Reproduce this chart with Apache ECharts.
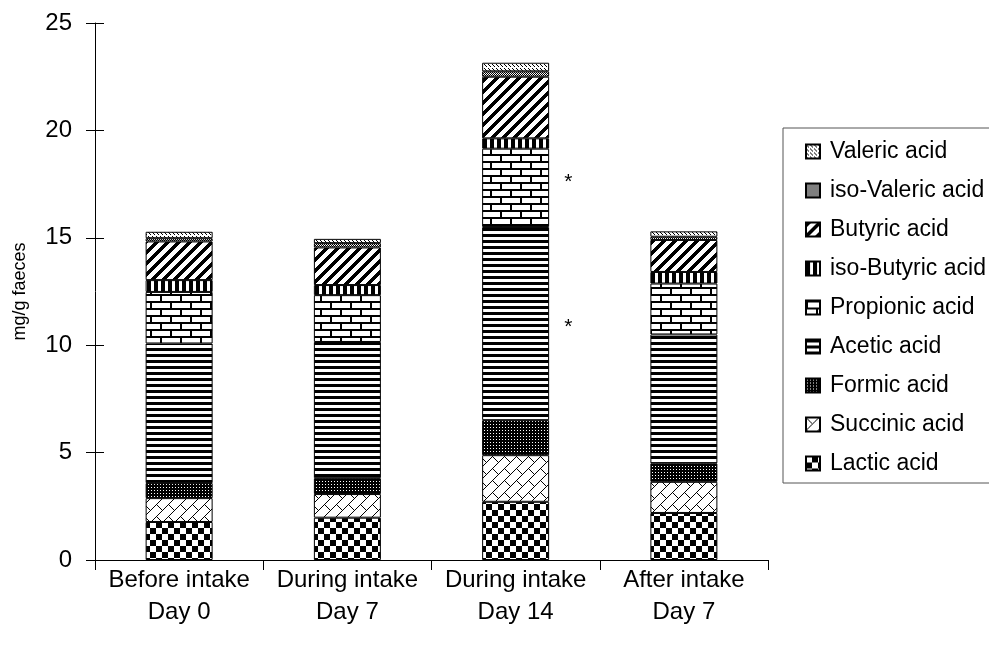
<!DOCTYPE html>
<html>
<head>
<meta charset="utf-8">
<script src="https://cdn.jsdelivr.net/npm/echarts@6/dist/echarts.min.js"></script>
<style>
html,body{margin:0;padding:0;background:#fff;}
#chart{width:989px;height:649px;}
</style>
</head>
<body>
<div id="chart"></div>
<script>
// ---- data ----
const categories = ['Before intake\nDay 0', 'During intake\nDay 7', 'During intake\nDay 14', 'After intake\nDay 7'];
const lactic     = [1.77, 1.97, 2.71, 2.19];
const succinic   = [1.11, 1.10, 2.17, 1.45];
const formic     = [0.70, 0.74, 1.63, 0.86];
const acetic     = [6.50, 6.34, 8.99, 6.00];
const propionic  = [2.40, 2.18, 3.65, 2.37];
const isoButyric = [0.55, 0.47, 0.48, 0.54];
const butyric    = [1.80, 1.75, 2.87, 1.49];
const isoValeric = [0.15, 0.20, 0.25, 0.15];
const valeric    = [0.30, 0.20, 0.40, 0.25];
const yTicks = [0, 5, 10, 15, 20, 25];
// significance marks: series name -> category indices
const significant = { 'Propionic acid': [2], 'Acetic acid': [2] };

// ---- patterns ----
function tile(w, h, fn) {
  const c = document.createElement('canvas');
  c.width = w; c.height = h;
  const ctx = c.getContext('2d');
  const img = ctx.createImageData(w, h);
  for (let y = 0; y < h; y++) for (let x = 0; x < w; x++) {
    const b = fn(x, y);
    const i = (y * w + x) * 4;
    const v = b ? 0 : 255;
    img.data[i] = v; img.data[i + 1] = v; img.data[i + 2] = v; img.data[i + 3] = 255;
  }
  ctx.putImageData(img, 0, 0);
  return { image: c, repeat: 'repeat' };
}
const mod = (a, n) => ((a % n) + n) % n;
const patterns = {
  lactic: tile(12, 12, (x, y) => (x < 6) !== (y < 6)),
  succinic: tile(24, 24, (x, y) => {
    const T = 12, u = x + y, v = x - y;
    if (mod(u, T) === 0) return true;
    const s = Math.floor(u / T);
    return mod(v + s * T, 2 * T) === 0;
  }),
  formic: tile(3, 3, (x, y) => !(x === 1 && y === 1)),
  acetic: tile(4, 6, (x, y) => y < 3),
  propionic: tile(20, 14, (x, y) => {
    if (y < 2 || (y >= 7 && y < 9)) return true;
    if (y < 7) return x < 2;
    return x >= 10 && x < 12;
  }),
  isoButyric: tile(7, 4, (x, y) => x < 4),
  butyric: tile(11, 11, (x, y) => mod(x + y, 11) < 5),
  isoValeric: tile(2, 2, (x, y) => (x + y) % 2 === 0),
  valeric: tile(4, 4, (x, y) => (x === 0 && y === 0) || (x === 2 && y === 2) || (x === 1 && y === 1))
};

const seriesDefs = [
  ['Lactic acid', lactic, patterns.lactic],
  ['Succinic acid', succinic, patterns.succinic],
  ['Formic acid', formic, patterns.formic],
  ['Acetic acid', acetic, patterns.acetic],
  ['Propionic acid', propionic, patterns.propionic],
  ['iso-Butyric acid', isoButyric, patterns.isoButyric],
  ['Butyric acid', butyric, patterns.butyric],
  ['iso-Valeric acid', isoValeric, patterns.isoValeric],
  ['Valeric acid', valeric, patterns.valeric]
];
const starOffsets = { 'Propionic acid': [0, -6], 'Acetic acid': [0, 4] };

const FONT = '"Liberation Sans", Arial, sans-serif';

const series = seriesDefs.map(([name, values, pat]) => ({
  name,
  type: 'bar',
  stack: 'total',
  barWidth: 67,
  data: values.map((v, i) => {
    if (significant[name] && significant[name].includes(i)) {
      return {
        value: v,
        label: { show: true, position: 'right', distance: 15, formatter: '*',
                 offset: starOffsets[name] || [0, 0],
                 fontSize: 21, color: '#000', fontFamily: FONT }
      };
    }
    return v;
  }),
  itemStyle: { color: pat, borderColor: '#000', borderWidth: 1 },
  emphasis: { disabled: true },
  animation: false
}));

const chart = echarts.init(document.getElementById('chart'), null, { renderer: 'canvas' });
chart.setOption({
  animation: false,
  backgroundColor: '#fff',
  textStyle: { fontFamily: FONT, color: '#000' },
  grid: { left: 95, right: 221, top: 23, bottom: 89, outerBoundsMode: 'none', containLabel: false },
  legend: {
    orient: 'vertical',
    left: 783, top: 128,
    padding: [12, 40, 8, 22],
    itemWidth: 14, itemHeight: 14, itemGap: 16,
    icon: 'rect',
    borderColor: '#555', borderWidth: 1,
    selectedMode: false,
    data: seriesDefs.map(d => d[0]).reverse(),
    textStyle: { fontSize: 23, color: '#000', fontFamily: FONT, padding: [0, 0, 0, 5] }
  },
  xAxis: {
    type: 'category',
    data: categories,
    axisLine: { lineStyle: { color: '#000', width: 1 } },
    axisTick: { show: true, length: 10, lineStyle: { color: '#000' } },
    axisLabel: { fontSize: 24, color: '#000', lineHeight: 32, margin: 4, fontFamily: FONT, interval: 0 },
    splitLine: { show: false }
  },
  yAxis: [{
    type: 'value',
    min: yTicks[0], max: yTicks[yTicks.length - 1], interval: yTicks[1] - yTicks[0],
    name: 'mg/g faeces',
    nameLocation: 'middle',
    nameGap: 66,
    nameRotate: 90,
    nameTextStyle: { fontSize: 18, color: '#000', fontFamily: FONT },
    axisLine: { show: true, lineStyle: { color: '#000', width: 1 } },
    axisTick: { show: true, length: 9, lineStyle: { color: '#000' } },
    axisLabel: { fontSize: 24, color: '#000', margin: 23, fontFamily: FONT },
    splitLine: { show: false }
  }, {
    type: 'value',
    position: 'left',
    min: yTicks[0], max: yTicks[yTicks.length - 1], interval: yTicks[1] - yTicks[0],
    axisLine: { show: false },
    axisTick: { show: true, inside: true, length: 9, lineStyle: { color: '#000' } },
    axisLabel: { show: false },
    splitLine: { show: false }
  }],
  series
});
</script>
</body>
</html>
